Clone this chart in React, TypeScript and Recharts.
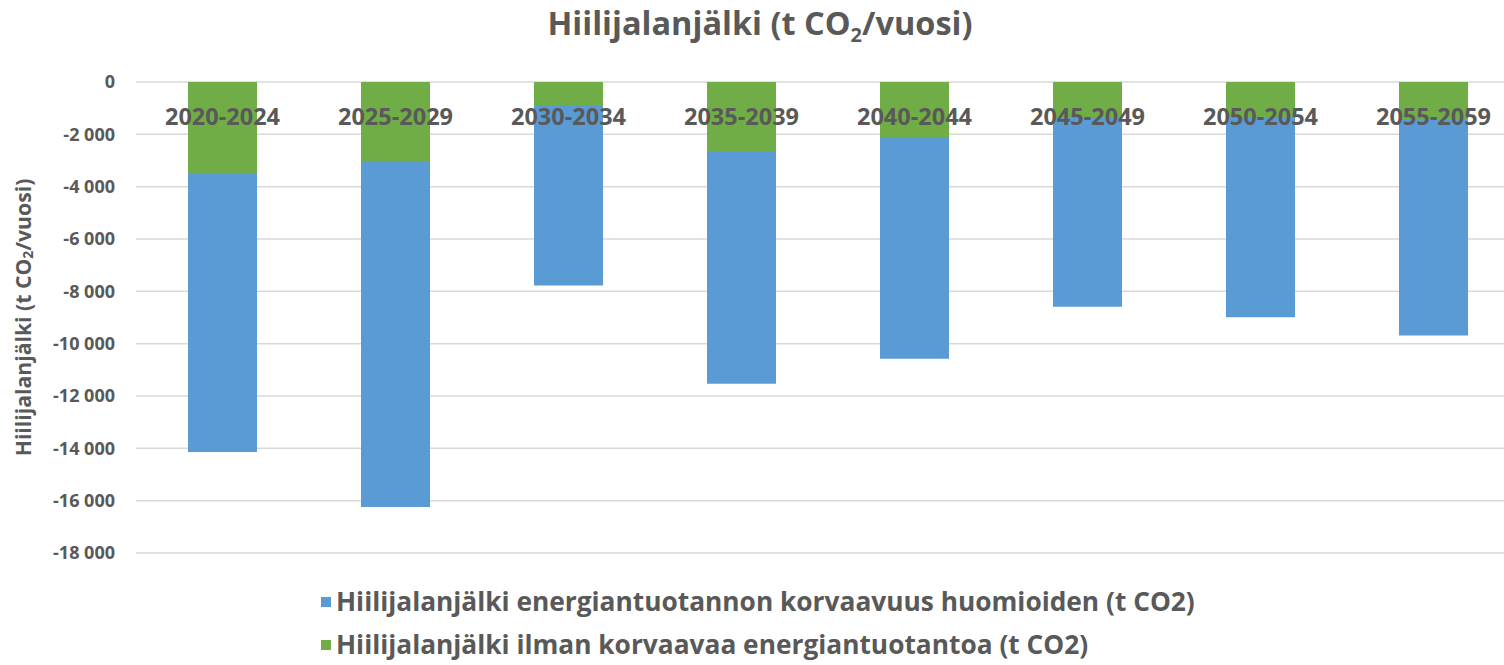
import React from "react";
import {
  BarChart,
  Bar,
  XAxis,
  YAxis,
  CartesianGrid,
  Legend,
} from "recharts";

// Periods (5-year windows)
const periods = [
  "2020-2024",
  "2025-2029",
  "2030-2034",
  "2035-2039",
  "2040-2044",
  "2045-2049",
  "2050-2054",
  "2055-2059",
];

// t CO2 / year
const withReplacement = [-14140, -16240, -7780, -11530, -10580, -8590, -8990, -9690];
const withoutReplacement = [-3490, -3040, -880, -2640, -2120, -1380, -1340, -1450];

const yTicks = [0, -2000, -4000, -6000, -8000, -10000, -12000, -14000, -16000, -18000];

const seriesNames = [
  "Hiilijalanjälki energiantuotannon korvaavuus huomioiden (t CO2)",
  "Hiilijalanjälki ilman korvaavaa energiantuotantoa (t CO2)",
];

const BLUE = "#5b9bd5";
const GREEN = "#70ad47";
const TEXT = "#595959";
const FONT = "'Open Sans', sans-serif";
const BAR_W = 69;

const data = periods.map((p, i) => ({
  period: p,
  blue: withReplacement[i],
  green: withoutReplacement[i],
}));

const fmt = (v: number) => {
  const s = String(Math.abs(v)).replace(/\B(?=(\d{3})+(?!\d))/g, " ");
  return v < 0 ? "-" + s : s;
};

// category labels sit just under the zero line, over the bars
const PeriodTick = (props: any) => {
  const { x, y, payload } = props;
  return (
    <text
      x={x}
      y={y + 34}
      textAnchor="middle"
      dominantBaseline="central"
      fill={TEXT}
      fontSize={23.5}
      fontWeight={700}
      fontFamily={FONT}
    >
      {payload.value}
    </text>
  );
};

const YLabel = (props: any) => {
  const vb = props.viewBox || {};
  const cy = vb.y + vb.height / 2;
  const cx = 22;
  return (
    <text
      transform={`translate(${cx},${cy}) rotate(-90)`}
      textAnchor="middle"
      dominantBaseline="central"
      fill={TEXT}
      fontSize={21.2}
      fontWeight={700}
      fontFamily={FONT}
    >
      Hiilijalanjälki (t CO
      <tspan fontSize={14} dy={5}>2</tspan>
      <tspan dy={-5}>/vuosi)</tspan>
    </text>
  );
};

const LegendBox = () => (
  <div style={{ fontFamily: FONT, fontWeight: 700, color: TEXT, fontSize: 26.3 }}>
    {seriesNames.map((n, i) => (
      <div
        key={n}
        style={{ display: "flex", alignItems: "center", height: 43, lineHeight: "43px" }}
      >
        <span
          style={{
            display: "inline-block",
            width: 10,
            height: 10,
            background: i === 0 ? BLUE : GREEN,
            marginRight: 5,
          }}
        />
        <span>{n}</span>
      </div>
    ))}
  </div>
);

export default function App() {
  return (
    <div
      style={{
        position: "absolute",
        left: 0,
        top: 0,
        width: 1504,
        height: 665,
        overflow: "hidden",
        background: "#fff",
      }}
    >
      <div
        style={{
          position: "absolute",
          top: 0,
          left: 0,
          width: 1520,
          textAlign: "center",
          fontFamily: FONT,
          fontWeight: 700,
          fontSize: 32.5,
          color: TEXT,
        }}
      >
        Hiilijalanjälki (t CO<sub style={{ fontSize: 20, verticalAlign: -7 }}>2</sub>/vuosi)
      </div>
      <BarChart
        width={1504}
        height={665}
        data={data}
        margin={{ top: 52, right: -16, bottom: 112, left: 20 }}
        barGap={-BAR_W}
      >
        <CartesianGrid stroke="#d9d9d9" strokeWidth={1.5} vertical={false} />
        <YAxis
          type="number"
          domain={[-18000, 0]}
          ticks={yTicks}
          tickFormatter={fmt}
          width={116}
          axisLine={false}
          tickLine={false}
          tickMargin={15}
          interval={0}
          tick={{ fill: TEXT, fontSize: 18, fontWeight: 700, fontFamily: FONT }}
          label={<YLabel />}
        />
        <Bar dataKey="blue" fill={BLUE} barSize={BAR_W} isAnimationActive={false} />
        <Bar dataKey="green" fill={GREEN} barSize={BAR_W} isAnimationActive={false} />
        <XAxis
          dataKey="period"
          orientation="top"
          height={30}
          axisLine={false}
          tickLine={false}
          tickSize={0}
          tickMargin={0}
          interval={0}
          tick={<PeriodTick />}
        />
        <Legend
          layout="horizontal"
          verticalAlign="middle"
          align="center"
          content={<LegendBox />}
          wrapperStyle={{ top: 580, left: 321, width: 1000 }}
        />
      </BarChart>
    </div>
  );
}
